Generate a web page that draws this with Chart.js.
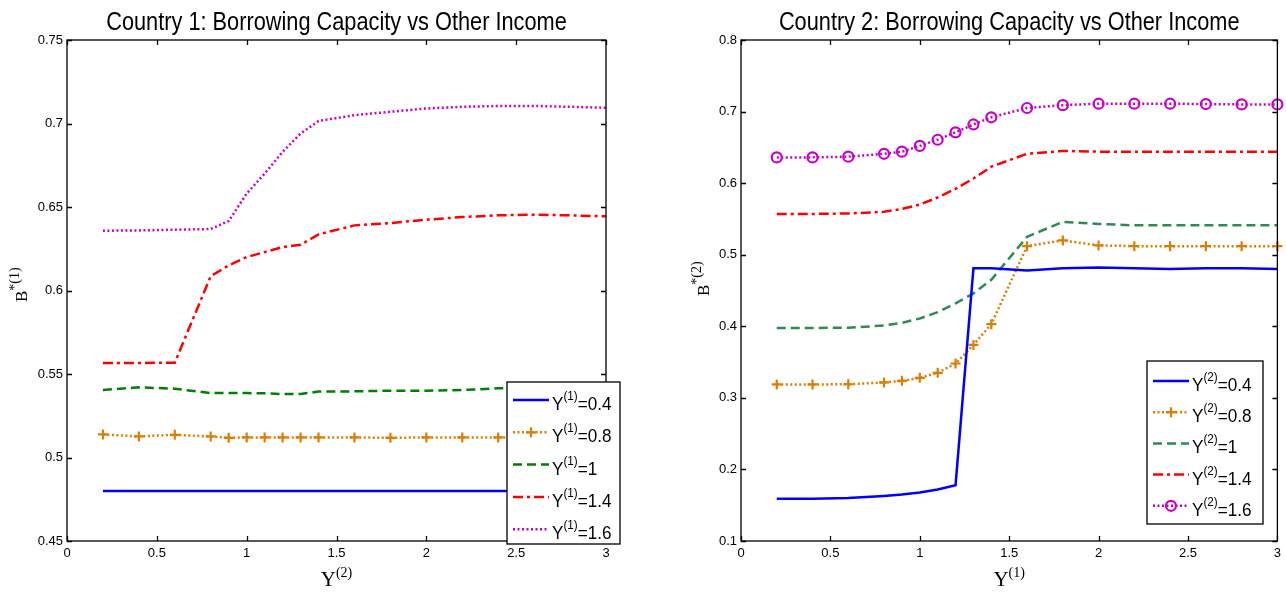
<!DOCTYPE html>
<html>
<head>
<meta charset="utf-8">
<script src="https://cdn.jsdelivr.net/npm/chart.js@4.4.1/dist/chart.umd.min.js"></script>
<style>
  body { margin: 0; background: #fff; width: 1286px; height: 593px; position: relative; overflow: hidden; }
  canvas { position: absolute; top: 0; }
  #c1 { left: 0; }
  #c2 { left: 640px; }
</style>
</head>
<body>
<canvas id="c1" width="640" height="593"></canvas>
<canvas id="c2" width="646" height="593"></canvas>
<script>
// income grid shared by both countries
var xVals = [0.2, 0.4, 0.6, 0.8, 0.9, 1.0, 1.1, 1.2, 1.3, 1.4, 1.6, 1.8, 2.0, 2.2, 2.4, 2.6, 2.8, 3.0];
var incomeLevels = ['0.4', '0.8', '1', '1.4', '1.6'];
var xTickVals = [0, 0.5, 1, 1.5, 2, 2.5, 3];
var yTicksC1 = [0.45, 0.5, 0.55, 0.6, 0.65, 0.7, 0.75];
var yTicksC2 = [0.1, 0.2, 0.3, 0.4, 0.5, 0.6, 0.7, 0.8];

// country 1: B*(1) against Y(2), one series per Y(1)
var c1Y04 = [0.480, 0.480, 0.480, 0.480, 0.480, 0.480, 0.480, 0.480, 0.480, 0.480, 0.480, 0.480, 0.480, 0.480, 0.480, 0.480, 0.480, 0.480];
var c1Y08 = [0.5138, 0.5126, 0.5136, 0.5126, 0.5118, 0.512, 0.512, 0.512, 0.512, 0.512, 0.512, 0.5118, 0.512, 0.512, 0.512, 0.512, 0.512, 0.512];
var c1Y1 = [0.5404, 0.542, 0.5412, 0.5386, 0.5386, 0.5386, 0.5384, 0.538, 0.538, 0.5395, 0.5396, 0.540, 0.540, 0.5404, 0.5414, 0.5418, 0.542, 0.542];
var c1Y14 = [0.5566, 0.5566, 0.5568, 0.6086, 0.615, 0.620, 0.623, 0.626, 0.6274, 0.6336, 0.639, 0.6404, 0.6424, 0.644, 0.645, 0.6454, 0.645, 0.6444];
var c1Y16 = [0.6358, 0.636, 0.6364, 0.6368, 0.6416, 0.658, 0.670, 0.683, 0.694, 0.7015, 0.705, 0.707, 0.709, 0.710, 0.7105, 0.7105, 0.710, 0.7094];

// country 2: B*(2) against Y(1), one series per Y(2)
var c2Y04 = [0.159, 0.159, 0.160, 0.163, 0.165, 0.1677, 0.172, 0.178, 0.481, 0.481, 0.478, 0.481, 0.482, 0.481, 0.480, 0.481, 0.481, 0.480];
var c2Y08 = [0.3187, 0.3187, 0.319, 0.3215, 0.3238, 0.328, 0.335, 0.348, 0.374, 0.403, 0.512, 0.520, 0.513, 0.512, 0.512, 0.512, 0.512, 0.512];
var c2Y1 = [0.3977, 0.3977, 0.398, 0.4011, 0.4048, 0.4109, 0.4197, 0.432, 0.446, 0.465, 0.525, 0.546, 0.543, 0.541, 0.541, 0.541, 0.541, 0.541];
var c2Y14 = [0.557, 0.557, 0.5576, 0.560, 0.564, 0.570, 0.580, 0.592, 0.6065, 0.623, 0.641, 0.645, 0.644, 0.644, 0.644, 0.644, 0.644, 0.644];
var c2Y16 = [0.636, 0.636, 0.637, 0.641, 0.644, 0.652, 0.6606, 0.671, 0.682, 0.692, 0.705, 0.709, 0.711, 0.711, 0.711, 0.7105, 0.710, 0.710];

var SANS = '"Liberation Sans", Arial, sans-serif';
var SERIF = '"Liberation Serif", "Times New Roman", serif';

var lineStyles = [
  { dash: [], marker: null },
  { dash: [2, 2.5], marker: 'cross' },
  { dash: [9, 5], marker: null },
  { dash: [10, 4, 3, 4], marker: null },
  { dash: [2, 2.5], marker: null }
];

function makeSets(series, colors, lastMarker) {
  return series.map(function (vals, i) {
    var st = lineStyles[i];
    var marker = (i === 4) ? lastMarker : st.marker;
    return {
      label: incomeLevels[i],
      data: xVals.map(function (x, j) { return { x: x, y: vals[j] }; }),
      borderColor: colors[i],
      borderDash: st.dash,
      borderWidth: 2.5,
      tension: 0,
      fill: false,
      clip: false,
      pointStyle: marker || 'circle',
      pointRadius: marker ? 5 : 0,
      pointHoverRadius: 0,
      pointBorderWidth: 2.2,
      pointBorderColor: colors[i],
      pointBackgroundColor: 'rgba(0,0,0,0)'
    };
  });
}

// text runs with raised superscripts, squeezed a little like the printed Helvetica
function runsWidth(ctx, runs, sx) {
  var w = 0;
  runs.forEach(function (r) { ctx.font = r.font; w += ctx.measureText(r.t).width * sx; });
  return w;
}
function drawRuns(ctx, x, y, runs, sx, align) {
  var cx = align === 'center' ? x - runsWidth(ctx, runs, sx) / 2 : x;
  ctx.fillStyle = '#000';
  ctx.textBaseline = 'alphabetic';
  ctx.textAlign = 'left';
  runs.forEach(function (r) {
    ctx.font = r.font;
    ctx.save();
    ctx.translate(cx, y + (r.dy || 0));
    ctx.scale(sx, 1);
    ctx.fillText(r.t, 0, 0);
    ctx.restore();
    cx += ctx.measureText(r.t).width * sx;
  });
}

function drawMarker(ctx, style, x, y, color) {
  ctx.save();
  ctx.setLineDash([]);
  ctx.strokeStyle = color;
  ctx.lineWidth = 2.2;
  ctx.beginPath();
  if (style === 'cross') {
    ctx.moveTo(x - 5, y); ctx.lineTo(x + 5, y);
    ctx.moveTo(x, y - 5); ctx.lineTo(x, y + 5);
  } else {
    ctx.arc(x, y, 5, 0, Math.PI * 2);
  }
  ctx.stroke();
  ctx.restore();
}

var framePlugin = {
  id: 'matFrame',
  afterDraw: function (chart) {
    var o = chart.options.plugins.matFrame;
    var ctx = chart.ctx, a = chart.chartArea;
    var xs = chart.scales.x, ys = chart.scales.y;
    ctx.save();

    // box and inward ticks on all four sides
    ctx.strokeStyle = '#000';
    ctx.lineWidth = 1.3;
    ctx.setLineDash([]);
    ctx.strokeRect(a.left, a.top, a.right - a.left, a.bottom - a.top);
    ctx.beginPath();
    xTickVals.forEach(function (v) {
      var px = Math.round(xs.getPixelForValue(v)) + 0.5;
      ctx.moveTo(px, a.bottom); ctx.lineTo(px, a.bottom - 5);
      ctx.moveTo(px, a.top); ctx.lineTo(px, a.top + 5);
    });
    o.yTicks.forEach(function (v) {
      var py = Math.round(ys.getPixelForValue(v)) + 0.5;
      ctx.moveTo(a.left, py); ctx.lineTo(a.left + 5, py);
      ctx.moveTo(a.right, py); ctx.lineTo(a.right - 5, py);
    });
    ctx.stroke();

    // legend box
    var L = o.legend;
    ctx.fillStyle = '#fff';
    ctx.fillRect(L.x, L.y, L.w, L.h);
    ctx.strokeRect(L.x, L.y, L.w, L.h);
    chart.data.datasets.forEach(function (ds, i) {
      var ry = L.y + L.first + i * L.step;
      var x0 = L.x + 6, x1 = L.x + 42;
      ctx.save();
      ctx.strokeStyle = ds.borderColor;
      ctx.lineWidth = ds.borderWidth;
      ctx.setLineDash(ds.borderDash);
      ctx.beginPath();
      ctx.moveTo(x0, ry); ctx.lineTo(x1, ry);
      ctx.stroke();
      ctx.restore();
      if (ds.pointRadius > 0) drawMarker(ctx, ds.pointStyle, (x0 + x1) / 2, ry, ds.borderColor);
      drawRuns(ctx, L.x + 45, ry + 10, [
        { t: 'Y', font: '19px ' + SANS },
        { t: '(' + o.legendSup + ')', font: '13px ' + SANS, dy: -10 },
        { t: '=' + incomeLevels[i], font: '19px ' + SANS }
      ], 0.9);
    });

    // title
    var cx = (a.left + a.right) / 2;
    drawRuns(ctx, cx, 30, [{ t: o.title, font: '25px ' + SANS }], 0.87, 'center');

    // x axis label
    drawRuns(ctx, cx, 586, [
      { t: 'Y', font: '21px ' + SERIF },
      { t: '(' + o.xSup + ')', font: '14px ' + SERIF, dy: -9 }
    ], 1, 'center');

    // y axis label, rotated
    ctx.save();
    ctx.translate(o.yLabelAt[0], o.yLabelAt[1]);
    ctx.rotate(-Math.PI / 2);
    drawRuns(ctx, 0, 0, [
      { t: 'B', font: '17px ' + SERIF },
      { t: '*(' + o.ySup + ')', font: '14px ' + SERIF, dy: -8 }
    ], 1);
    ctx.restore();

    ctx.restore();
  }
};

function makeChart(id, series, colors, lastMarker, yMin, yMax, yTicks, yAxisWidth, padRight, extra) {
  return new Chart(document.getElementById(id), {
    type: 'line',
    data: { datasets: makeSets(series, colors, lastMarker) },
    plugins: [framePlugin],
    options: {
      responsive: false,
      animation: false,
      events: [],
      layout: { padding: { top: 40, right: padRight, left: 0, bottom: 0 } },
      plugins: {
        legend: { display: false },
        title: { display: false },
        tooltip: { enabled: false },
        matFrame: extra
      },
      scales: {
        x: {
          type: 'linear', min: 0, max: 3,
          afterBuildTicks: function (s) { s.ticks = xTickVals.map(function (v) { return { value: v }; }); },
          afterFit: function (s) { s.height = 52; },
          grid: { display: false, drawTicks: false },
          border: { display: false },
          ticks: {
            color: '#000', padding: 5, maxRotation: 0, autoSkip: false,
            font: { family: SANS, size: 13 },
            callback: function (v) { return String(v); }
          }
        },
        y: {
          type: 'linear', min: yMin, max: yMax,
          afterBuildTicks: function (s) { s.ticks = yTicks.map(function (v) { return { value: v }; }); },
          afterFit: function (s) { s.width = yAxisWidth; },
          grid: { display: false, drawTicks: false },
          border: { display: false },
          ticks: {
            color: '#000', padding: 4, autoSkip: false,
            font: { family: SANS, size: 13 },
            callback: function (v) { return String(v); }
          }
        }
      }
    }
  });
}

makeChart('c1', [c1Y04, c1Y08, c1Y1, c1Y14, c1Y16],
  ['#0000FF', '#DE7D00', '#008000', '#FF0000', '#C800C8'], null,
  0.45, 0.75, yTicksC1, 67, 34, {
    title: 'Country 1: Borrowing Capacity vs Other Income',
    yTicks: yTicksC1, legendSup: '1', xSup: '2', ySup: '1', yLabelAt: [27, 302],
    legend: { x: 507, y: 382, w: 113, h: 162, first: 18, step: 32.3 }
  });

makeChart('c2', [c2Y04, c2Y08, c2Y1, c2Y14, c2Y16],
  ['#0000FF', '#DE7D00', '#2E8B57', '#FF0000', '#C800C8'], 'circle',
  0.1, 0.8, yTicksC2, 101, 5, {
    title: 'Country 2: Borrowing Capacity vs Other Income',
    yTicks: yTicksC2, legendSup: '2', xSup: '1', ySup: '2', yLabelAt: [69, 296],
    legend: { x: 507, y: 361, w: 116, h: 163, first: 20, step: 31.2 }
  });
</script>
</body>
</html>
